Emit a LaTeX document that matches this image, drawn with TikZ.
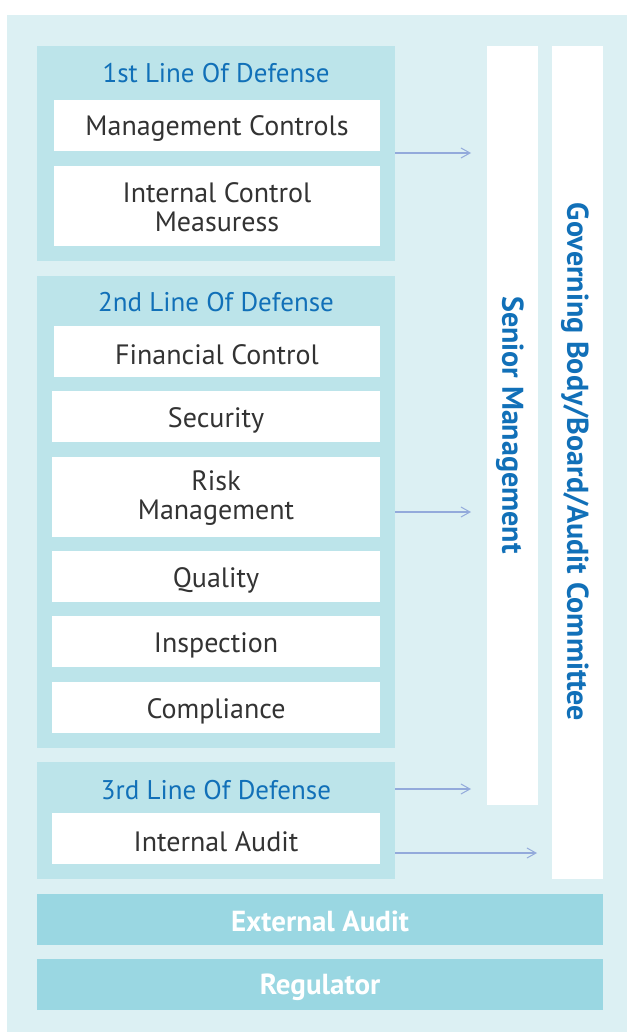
\documentclass[tikz,border=0pt]{standalone}
\usepackage{fontspec}
\setmainfont{PT Sans}
\usetikzlibrary{arrows.meta}
\definecolor{bgc}{HTML}{DCF0F3}
\definecolor{panelc}{HTML}{BCE4EA}
\definecolor{barc}{HTML}{9AD7E2}
\definecolor{titlec}{HTML}{1170B8}
\definecolor{textc}{HTML}{333333}
\definecolor{arrowc}{HTML}{93AADB}
\tikzset{
  box/.style={draw=none, inner sep=0pt, text=textc, font=\fontsize{28}{29}\selectfont, align=center},
  paneltitle/.style={text=titlec, font=\fontsize{27}{29}\selectfont, inner sep=0pt},
  coltext/.style={text=titlec, font=\bfseries\fontsize{30}{32}\selectfont, rotate=-90, inner sep=0pt},
  bar/.style={draw=none, text=white, font=\bfseries\fontsize{29}{32}\selectfont, inner sep=0pt},
  conn/.style={draw=arrowc, line width=1.1pt, -{Straight Barb[length=9pt,width=10pt,line width=1pt]}}
}
\begin{document}
\begin{tikzpicture}[x=1pt,y=-1pt]
\useasboundingbox (0,0) rectangle (627,1032);
\fill[white] (0,0) rectangle (627,1032);
\fill[bgc] (7,15) rectangle (627,1032);
% panels
\fill[panelc] (37,46) rectangle (395,261);
\fill[panelc] (37,276) rectangle (395,748);
\fill[panelc] (37,762) rectangle (395,879);
\coordinate (p1r) at (395,153);
\coordinate (p2r) at (395,512);
\coordinate (p3r) at (395,789);
\coordinate (p3r2) at (395,853);
\node[paneltitle] (t1) at (216,73) {1st Line Of Defense};
\node[paneltitle] (t2) at (216,302) {2nd Line Of Defense};
\node[paneltitle] (t3) at (216,790) {3rd Line Of Defense};
% boxes
\path[fill=white] (54,100) rectangle (380,151); \node[box] (mc) at (217,129) {Management Controls};
\path[fill=white] (54,166) rectangle (380,246); \node[box] (icm) at (217,207) {Internal Control\\Measuress};
\path[fill=white] (54,326) rectangle (380,377); \node[box] (fc) at (217,355) {Financial Control};
\path[fill=white] (52,391) rectangle (380,442); \node[box] (sec) at (216,420) {Security};
\path[fill=white] (52,457) rectangle (380,537); \node[box] (rm) at (216,498) {Risk\\Management};
\path[fill=white] (52,551) rectangle (380,602); \node[box] (qu) at (216,580) {Quality};
\path[fill=white] (52,616) rectangle (380,667); \node[box] (ins) at (216,645) {Inspection};
\path[fill=white] (52,682) rectangle (380,733); \node[box] (comp) at (216,711) {Compliance};
\path[fill=white] (52,813) rectangle (380,864); \node[box] (ia) at (216,842) {Internal Audit};
% columns
\path[fill=white] (487,46) rectangle (538,805);
\path[fill=white] (552,46) rectangle (603,879);
\coordinate (smA) at (471,153);
\coordinate (smB) at (471,512);
\coordinate (smC) at (471,789);
\coordinate (gbA) at (537,853);
\node[coltext] (sm) at (510,425) {Senior Management};
\node[coltext] (gb) at (575,462) {Governing Body/Board/Audit Committee};
% bars
\path[fill=barc] (37,894) rectangle (603,945); \node[bar] (ea) at (320,921) {External Audit};
\path[fill=barc] (37,959) rectangle (603,1010); \node[bar] (reg) at (320,987) {Regulator};
% arrows
\draw[conn] (p1r) -- (smA);
\draw[conn] (p2r) -- (smB);
\draw[conn] (p3r) -- (smC);
\draw[conn] (p3r2) -- (gbA);
\end{tikzpicture}
\end{document}
